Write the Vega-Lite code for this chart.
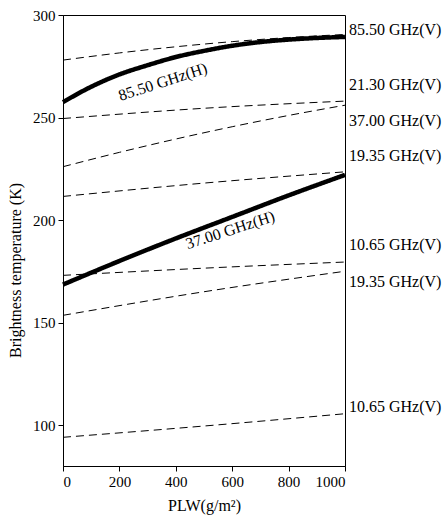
{
  "$schema": "https://vega.github.io/schema/vega-lite/v6.json",
  "width": 282,
  "height": 451,
  "autosize": {"type": "none"},
  "padding": {"left": 63, "top": 15, "right": 99, "bottom": 51},
  "background": "white",
  "config": {
    "font": "Liberation Serif",
    "view": {"stroke": "black", "strokeWidth": 1},
    "axis": {
      "grid": false,
      "domainColor": "black",
      "tickColor": "black",
      "labelColor": "black",
      "titleColor": "black",
      "labelFont": "Liberation Serif",
      "titleFont": "Liberation Serif",
      "labelFontSize": 15,
      "titleFontSize": 16,
      "titleFontWeight": "normal",
      "tickSize": 5
    }
  },
  "datasets": {
    "lines": [
      {"series": "85.50V", "pol": "V", "x": 0, "y": 278},
      {"series": "85.50V", "pol": "V", "x": 200, "y": 281.5},
      {"series": "85.50V", "pol": "V", "x": 400, "y": 284.5},
      {"series": "85.50V", "pol": "V", "x": 600, "y": 287},
      {"series": "85.50V", "pol": "V", "x": 800, "y": 289},
      {"series": "85.50V", "pol": "V", "x": 1000, "y": 290.5},
      {"series": "85.50H", "pol": "H", "x": 0, "y": 257.5},
      {"series": "85.50H", "pol": "H", "x": 100, "y": 265},
      {"series": "85.50H", "pol": "H", "x": 200, "y": 271},
      {"series": "85.50H", "pol": "H", "x": 300, "y": 275.5},
      {"series": "85.50H", "pol": "H", "x": 400, "y": 279.5},
      {"series": "85.50H", "pol": "H", "x": 500, "y": 282.5},
      {"series": "85.50H", "pol": "H", "x": 600, "y": 285},
      {"series": "85.50H", "pol": "H", "x": 700, "y": 286.8},
      {"series": "85.50H", "pol": "H", "x": 800, "y": 288},
      {"series": "85.50H", "pol": "H", "x": 900, "y": 288.8},
      {"series": "85.50H", "pol": "H", "x": 1000, "y": 289.3},
      {"series": "21.30V", "pol": "V", "x": 0, "y": 249.5},
      {"series": "21.30V", "pol": "V", "x": 500, "y": 254.5},
      {"series": "21.30V", "pol": "V", "x": 1000, "y": 258},
      {"series": "37.00V", "pol": "V", "x": 0, "y": 226},
      {"series": "37.00V", "pol": "V", "x": 200, "y": 233},
      {"series": "37.00V", "pol": "V", "x": 400, "y": 239.5},
      {"series": "37.00V", "pol": "V", "x": 600, "y": 245.5},
      {"series": "37.00V", "pol": "V", "x": 800, "y": 251},
      {"series": "37.00V", "pol": "V", "x": 1000, "y": 256},
      {"series": "19.35V", "pol": "V", "x": 0, "y": 211.5},
      {"series": "19.35V", "pol": "V", "x": 500, "y": 218},
      {"series": "19.35V", "pol": "V", "x": 1000, "y": 223.5},
      {"series": "37.00H", "pol": "H", "x": 0, "y": 168.5},
      {"series": "37.00H", "pol": "H", "x": 200, "y": 180},
      {"series": "37.00H", "pol": "H", "x": 400, "y": 191},
      {"series": "37.00H", "pol": "H", "x": 600, "y": 201.5},
      {"series": "37.00H", "pol": "H", "x": 800, "y": 212},
      {"series": "37.00H", "pol": "H", "x": 1000, "y": 222},
      {"series": "10.65V_a", "pol": "V", "x": 0, "y": 173},
      {"series": "10.65V_a", "pol": "V", "x": 500, "y": 176.5},
      {"series": "10.65V_a", "pol": "V", "x": 1000, "y": 179.5},
      {"series": "19.35V_b", "pol": "V", "x": 0, "y": 153.5},
      {"series": "19.35V_b", "pol": "V", "x": 500, "y": 165},
      {"series": "19.35V_b", "pol": "V", "x": 1000, "y": 175},
      {"series": "10.65V_b", "pol": "V", "x": 0, "y": 94},
      {"series": "10.65V_b", "pol": "V", "x": 500, "y": 99.5},
      {"series": "10.65V_b", "pol": "V", "x": 1000, "y": 105.5}
    ],
    "rlabels": [
      {"x": 1000, "y": 292.7, "label": "85.50 GHz(V)"},
      {"x": 1000, "y": 266, "label": "21.30 GHz(V)"},
      {"x": 1000, "y": 248.4, "label": "37.00 GHz(V)"},
      {"x": 1000, "y": 231, "label": "19.35 GHz(V)"},
      {"x": 1000, "y": 188, "label": "10.65 GHz(V)"},
      {"x": 1000, "y": 169.6, "label": "19.35 GHz(V)"},
      {"x": 1000, "y": 108.8, "label": "10.65 GHz(V)"}
    ],
    "hlabel85": [{"x": 354, "y": 267.3, "label": "85.50 GHz(H)"}],
    "hlabel37": [{"x": 593, "y": 195, "label": "37.00 GHz(H)"}]
  },
  "layer": [
    {
      "data": {"name": "lines"},
      "mark": {"type": "line", "color": "black", "interpolate": "monotone"},
      "encoding": {
        "x": {
          "field": "x", "type": "quantitative",
          "scale": {"domain": [0, 1000], "nice": false},
          "axis": {"values": [0, 200, 400, 600, 800, 1000], "format": "d", "title": "PLW(g/m²)", "titlePadding": 8, "labelPadding": 3}
        },
        "y": {
          "field": "y", "type": "quantitative",
          "scale": {"domain": [80, 300], "nice": false, "zero": false},
          "axis": {"values": [100, 150, 200, 250, 300], "title": "Brightness temperature (K)", "titlePadding": 9, "labelPadding": 3, "titleY": 255}
        },
        "detail": {"field": "series"},
        "strokeWidth": {"field": "pol", "type": "nominal", "scale": {"domain": ["H", "V"], "range": [4.5, 1]}, "legend": null},
        "strokeDash": {"field": "pol", "type": "nominal", "scale": {"domain": ["H", "V"], "range": [[1, 0], [8, 5]]}, "legend": null}
      }
    },
    {
      "data": {"name": "rlabels"},
      "mark": {"type": "text", "align": "left", "baseline": "middle", "dx": 4, "fontSize": 16, "color": "black"},
      "encoding": {
        "x": {"field": "x", "type": "quantitative"},
        "y": {"field": "y", "type": "quantitative"},
        "text": {"field": "label"}
      }
    },
    {
      "data": {"name": "hlabel85"},
      "mark": {"type": "text", "align": "center", "baseline": "middle", "angle": -18, "fontSize": 16, "color": "black"},
      "encoding": {
        "x": {"field": "x", "type": "quantitative"},
        "y": {"field": "y", "type": "quantitative"},
        "text": {"field": "label"}
      }
    },
    {
      "data": {"name": "hlabel37"},
      "mark": {"type": "text", "align": "center", "baseline": "middle", "angle": -18, "fontSize": 16, "color": "black"},
      "encoding": {
        "x": {"field": "x", "type": "quantitative"},
        "y": {"field": "y", "type": "quantitative"},
        "text": {"field": "label"}
      }
    }
  ]
}
